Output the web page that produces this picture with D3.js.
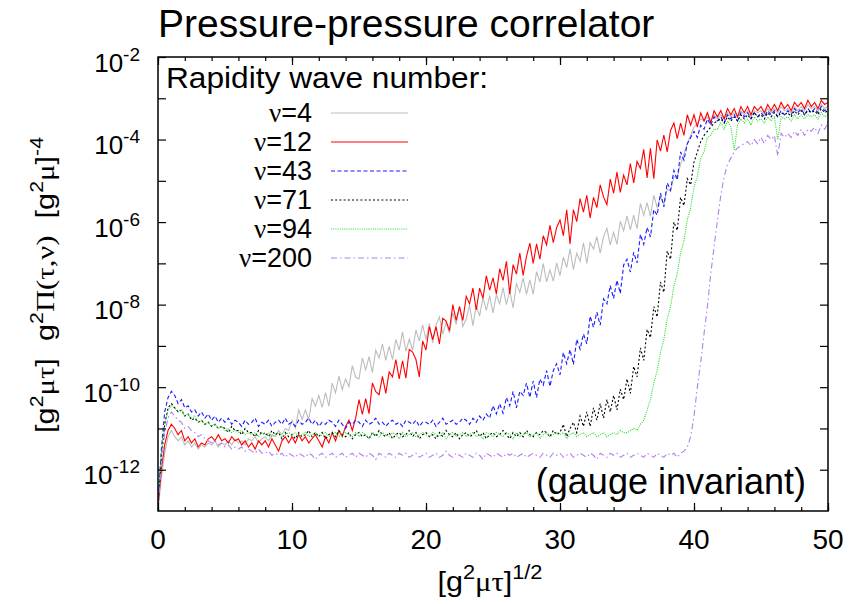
<!DOCTYPE html>
<html><head><meta charset="utf-8">
<script src="https://cdn.jsdelivr.net/npm/d3@7"></script>
<style>
body{margin:0;background:#fff}
text{font-family:"Liberation Sans",Arial,sans-serif;fill:#000}
</style>
</head><body>
<svg id="chart" width="863" height="604"></svg>
<script>
// ---- data: log10 of g^2 Pi, sampled every 0.25 in [g^2 mu tau]^1/2 from 0 to 50 ----
const tauStep = 0.25;
const nu4 = [
-13.0,-12.2,-11.6,-11.2,-11.05,-11.2,-11.3,-11.2,-11.4,-11.3,-11.45,-11.35,-11.5,-11.4,-11.45,-11.35,-11.4,-11.3,-11.45,-11.35,
-11.4,-11.3,-11.4,-11.25,-11.35,-11.3,-11.4,-11.25,-11.3,-11.2,-11.35,-11.25,-11.2,-11.3,-11.15,-11.2,-11.05,-11.15,-11.0,-11.05,
-10.8,-10.98,-10.55,-10.78,-10.55,-10.79,-10.28,-10.46,-10.2,-10.49,-10.13,-10.46,-9.9,-10.14,-9.73,-10.06,-9.8,-9.99,-9.48,-9.76,
-9.8,-9.29,-9.58,-9.26,-9.65,-9.1,-9.3,-8.95,-9.35,-9.01,-9.33,-8.84,-9.1,-8.66,-9.13,-8.84,-9.1,-8.61,-8.88,-8.49,
-8.85,-8.46,-8.93,-8.49,-8.3,-8.71,-8.43,-8.69,-8.2,-8.48,-8.05,-8.53,-8.35,-8.01,-8.51,-8.02,-8.28,-7.83,-8.14,-7.79,
-8.2,-7.76,-7.98,-7.59,-8.0,-7.66,-8.08,-7.49,-7.7,-7.35,-7.75,-7.4,-7.75,-7.2,-7.45,-7.0,-7.45,-7.16,-7.43,-6.99,
-7.3,-6.85,-7.1,-6.65,-7.15,-6.75,-6.95,-6.5,-7.0,-6.5,-6.65,-6.35,-6.75,-6.35,-6.15,-6.55,-6.25,-6.54,-5.98,-6.21,
-5.85,-6.19,-5.83,-6.16,-5.55,-5.84,-5.53,-5.86,-5.35,-5.64,-5.38,-5.56,-5.2,-5.25,-4.9,-4.9,-4.6,-4.35,-4.1,-3.9,
-3.7,-3.6,-3.5,-3.55,-3.45,-3.55,-3.4,-3.5,-3.4,-3.5,-3.35,-3.45,-3.35,-3.45,-3.3,-3.4,-3.3,-3.45,-3.3,-3.35,
-3.3,-3.4,-3.25,-3.35,-3.25,-3.35,-3.2,-3.3,-3.25,-3.35,-3.2,-3.3,-3.2,-3.3,-3.15,-3.25,-3.2,-3.3,-3.15,-3.25,
-3.2];
const nu12 = [
-12.9,-12.0,-11.4,-11.05,-10.9,-11.0,-11.15,-11.05,-11.3,-11.2,-11.35,-11.25,-11.45,-11.35,-11.4,-11.25,-11.2,-11.3,-11.15,-11.3,
-11.25,-11.35,-11.2,-11.3,-11.25,-11.4,-11.3,-11.45,-11.35,-11.5,-11.3,-11.4,-11.3,-11.45,-11.25,-11.4,-11.55,-11.3,-11.2,-11.35,
-11.2,-11.35,-11.15,-11.3,-11.2,-11.35,-11.25,-11.15,-11.3,-11.45,-11.2,-11.35,-11.1,-11.3,-11.05,-11.2,-10.95,-10.8,-11.05,-10.75,
-10.3,-10.66,-10.28,-10.64,-9.9,-10.11,-10.18,-9.74,-10.15,-9.63,-9.75,-9.33,-9.8,-9.36,-9.78,-9.09,-9.15,-9.33,-9.75,-8.88,
-9.1,-8.53,-8.85,-8.53,-8.95,-8.33,-8.4,-8.63,-8.0,-8.38,-8.05,-8.38,-7.8,-7.98,-7.6,-8.13,-7.6,-7.85,-7.3,-7.65,
-7.35,-7.74,-7.13,-7.41,-6.95,-7.74,-7.03,-7.26,-6.75,-7.29,-6.83,-6.51,-7.0,-6.53,-6.9,-6.33,-6.55,-6.08,-6.5,-6.13,
-5.95,-6.33,-5.7,-6.53,-5.7,-5.99,-5.43,-5.76,-5.35,-5.9,-5.4,-5.65,-5.1,-5.39,-5.58,-4.96,-5.3,-4.79,-5.28,-4.86,
-5.1,-4.58,-5.05,-4.53,-4.7,-4.24,-4.93,-4.21,-4.95,-4.01,-4.28,-3.89,-4.3,-3.78,-3.6,-3.98,-3.6,-3.9,-3.4,-3.65,
-3.4,-3.7,-3.35,-3.55,-3.35,-3.6,-3.3,-3.45,-3.3,-3.5,-3.25,-3.4,-3.25,-3.45,-3.2,-3.35,-3.2,-3.4,-3.2,-3.3,
-3.2,-3.35,-3.15,-3.3,-3.15,-3.3,-3.1,-3.25,-3.15,-3.3,-3.1,-3.2,-3.1,-3.25,-3.05,-3.2,-3.1,-3.25,-3.05,-3.15,
-3.1];
const nu43 = [
-12.8,-11.5,-10.6,-10.25,-10.1,-10.2,-10.4,-10.3,-10.5,-10.45,-10.6,-10.55,-10.7,-10.6,-10.75,-10.65,-10.8,-10.7,-10.85,-10.75,
-10.85,-10.75,-10.9,-10.8,-10.85,-10.95,-10.8,-10.9,-10.85,-10.75,-10.95,-10.85,-10.9,-10.8,-10.95,-10.85,-10.8,-10.9,-10.75,-10.9,
-10.85,-10.95,-10.8,-10.9,-10.85,-10.75,-10.9,-10.8,-10.95,-10.85,-10.9,-10.8,-10.85,-10.95,-10.8,-10.9,-11.0,-10.85,-10.9,-10.8,
-10.85,-10.95,-10.8,-10.9,-10.85,-10.75,-10.9,-10.85,-10.95,-10.85,-10.8,-10.9,-10.85,-10.95,-10.8,-10.85,-10.9,-10.8,-10.95,-10.85,
-10.85,-10.9,-10.8,-10.95,-10.85,-10.75,-10.9,-10.85,-10.8,-10.9,-10.85,-10.75,-10.8,-10.9,-10.75,-10.85,-10.7,-10.8,-10.65,-10.75,
-10.45,-10.65,-10.4,-10.63,-10.25,-10.45,-10.1,-10.5,-10.1,-10.2,-9.9,-10.25,-9.85,-10.25,-9.8,-9.95,-9.6,-9.98,-9.6,-9.43,
-9.7,-9.16,-9.43,-9.09,-9.45,-8.84,-9.08,-8.71,-8.95,-8.28,-8.55,-8.18,-8.5,-7.86,-7.98,-7.54,-7.85,-7.41,-7.73,-7.04,
-6.9,-7.21,-6.73,-6.99,-6.3,-6.54,-6.13,-6.36,-5.7,-5.83,-5.3,-5.63,-5.05,-5.23,-4.75,-4.98,-4.3,-4.5,-4.1,-3.95,
-3.8,-3.95,-3.65,-3.75,-3.5,-3.65,-3.45,-3.55,-3.45,-3.6,-3.4,-3.5,-3.4,-3.55,-3.35,-3.45,-3.35,-3.5,-3.35,-3.45,
-3.35,-3.45,-3.3,-3.4,-3.3,-3.45,-3.3,-3.4,-3.3,-3.4,-3.25,-3.35,-3.25,-3.4,-3.25,-3.35,-3.25,-3.35,-3.2,-3.3,
-3.25];
const nu71 = [
-12.8,-11.7,-10.9,-10.5,-10.4,-10.5,-10.6,-10.55,-10.7,-10.65,-10.8,-10.75,-10.85,-10.8,-10.9,-10.85,-10.95,-10.9,-11.0,-10.95,
-11.0,-11.1,-10.95,-11.05,-11.05,-11.15,-11.0,-11.1,-11.1,-11.2,-11.05,-11.15,-11.1,-11.2,-11.05,-11.15,-11.1,-11.25,-11.1,-11.2,
-11.15,-11.25,-11.1,-11.2,-11.15,-11.05,-11.2,-11.1,-11.2,-11.1,-11.25,-11.15,-11.1,-11.2,-11.05,-11.15,-11.2,-11.1,-11.25,-11.15,
-11.1,-11.2,-11.15,-11.25,-11.1,-11.2,-11.05,-11.15,-11.2,-11.1,-11.25,-11.15,-11.1,-11.2,-11.15,-11.05,-11.2,-11.1,-11.25,-11.15,
-11.1,-11.2,-11.15,-11.25,-11.1,-11.2,-11.05,-11.15,-11.2,-11.1,-11.25,-11.15,-11.1,-11.2,-11.15,-11.05,-11.2,-11.1,-11.25,-11.15,
-11.1,-11.2,-11.15,-11.05,-11.15,-11.25,-11.1,-11.2,-11.1,-11.2,-11.05,-11.15,-11.2,-11.1,-11.15,-11.05,-11.1,-11.2,-11.05,-11.15,
-11.1,-10.9,-11.2,-11.0,-10.85,-11.1,-10.7,-10.95,-10.6,-10.95,-10.5,-10.8,-10.4,-10.75,-10.3,-10.6,-10.2,-10.55,-10.05,-10.3,
-9.8,-10.15,-9.5,-9.75,-9.05,-9.35,-8.6,-8.8,-8.05,-8.3,-7.45,-7.7,-6.7,-6.9,-6.0,-6.2,-5.4,-5.6,-4.95,-5.1,
-4.55,-4.3,-4.05,-3.9,-3.8,-3.7,-3.6,-3.55,-3.5,-3.6,-3.45,-3.55,-3.45,-3.55,-3.4,-3.5,-3.4,-3.5,-3.35,-3.45,
-3.4,-3.5,-3.35,-3.45,-3.35,-3.45,-3.35,-3.4,-3.35,-3.45,-3.3,-3.4,-3.3,-3.4,-3.3,-3.35,-3.3,-3.4,-3.25,-3.35,
-3.3];
const nu94 = [
-12.8,-11.6,-10.9,-10.55,-10.45,-10.5,-10.6,-10.55,-10.7,-10.65,-10.75,-10.7,-10.85,-10.8,-10.9,-10.85,-10.95,-10.9,-11.0,-10.95,
-11.05,-11.0,-11.1,-11.05,-11.1,-11.05,-11.15,-11.1,-11.15,-11.1,-11.2,-11.1,-11.15,-11.1,-11.2,-11.15,-11.1,-11.2,-11.15,-11.1,
-11.15,-11.1,-11.2,-11.15,-11.1,-11.2,-11.15,-11.1,-11.2,-11.15,-11.1,-11.2,-11.15,-11.1,-11.2,-11.15,-11.1,-11.15,-11.2,-11.1,
-11.2,-11.1,-11.15,-11.25,-11.1,-11.15,-11.2,-11.1,-11.15,-11.2,-11.1,-11.15,-11.25,-11.1,-11.2,-11.15,-11.1,-11.2,-11.15,-11.1,
-11.15,-11.2,-11.1,-11.15,-11.2,-11.1,-11.25,-11.15,-11.1,-11.2,-11.15,-11.1,-11.2,-11.15,-11.1,-11.2,-11.15,-11.25,-11.1,-11.15,
-11.2,-11.1,-11.15,-11.2,-11.1,-11.15,-11.25,-11.1,-11.2,-11.15,-11.1,-11.2,-11.15,-11.1,-11.25,-11.15,-11.1,-11.2,-11.15,-11.1,
-11.15,-11.1,-11.25,-11.15,-11.1,-11.2,-11.15,-11.1,-11.2,-11.15,-11.1,-11.2,-11.15,-11.1,-11.2,-11.15,-11.1,-11.15,-11.05,-11.1,
-11.1,-11.05,-11.0,-11.05,-10.9,-10.8,-10.55,-10.3,-9.9,-9.6,-9.15,-8.85,-8.35,-8.05,-7.55,-7.25,-6.75,-6.45,-5.95,-5.65,
-5.15,-4.9,-4.45,-4.3,-3.95,-3.9,-3.75,-3.75,-3.6,-3.75,-3.55,-3.7,-4.25,-3.65,-3.5,-3.6,-3.5,-3.65,-3.45,-3.55,
-3.5,-3.6,-3.45,-3.55,-3.45,-4.0,-3.45,-3.5,-3.45,-3.55,-3.4,-3.5,-3.4,-3.5,-3.4,-3.45,-3.4,-3.5,-3.35,-3.45,
-3.4];
const nu200 = [
-12.9,-11.9,-11.1,-10.75,-10.6,-10.7,-10.8,-10.85,-11.0,-10.95,-11.05,-11.1,-11.2,-11.15,-11.25,-11.3,-11.35,-11.3,-11.4,-11.35,
-11.45,-11.4,-11.5,-11.45,-11.5,-11.45,-11.55,-11.5,-11.55,-11.6,-11.5,-11.6,-11.6,-11.55,-11.65,-11.6,-11.65,-11.6,-11.7,-11.6,
-11.65,-11.7,-11.6,-11.65,-11.7,-11.6,-11.65,-11.75,-11.65,-11.6,-11.7,-11.65,-11.6,-11.7,-11.65,-11.6,-11.7,-11.65,-11.6,-11.7,
-11.6,-11.65,-11.7,-11.6,-11.65,-11.75,-11.6,-11.65,-11.7,-11.6,-11.65,-11.7,-11.6,-11.65,-11.6,-11.7,-11.65,-11.6,-11.7,-11.65,
-11.6,-11.7,-11.65,-11.6,-11.7,-11.65,-11.55,-11.65,-11.7,-11.6,-11.65,-11.7,-11.6,-11.65,-11.7,-11.6,-11.65,-11.75,-11.6,-11.65,
-11.7,-11.6,-11.65,-11.7,-11.6,-11.65,-11.6,-11.7,-11.65,-11.6,-11.7,-11.65,-11.6,-11.65,-11.7,-11.6,-11.65,-11.7,-11.6,-11.65,
-11.6,-11.7,-11.65,-11.6,-11.7,-11.65,-11.6,-11.65,-11.7,-11.6,-11.65,-11.75,-11.6,-11.65,-11.7,-11.6,-11.65,-11.6,-11.7,-11.65,
-11.6,-11.7,-11.65,-11.6,-11.65,-11.7,-11.6,-11.65,-11.7,-11.6,-11.65,-11.7,-11.6,-11.65,-11.6,-11.7,-11.6,-11.55,-11.45,-11.2,
-10.7,-10.0,-9.4,-8.7,-8.05,-7.25,-6.6,-5.95,-5.35,-4.9,-4.6,-4.45,-4.3,-4.2,-4.15,-4.1,-4.05,-4.15,-4.0,-4.1,
-3.95,-4.1,-3.9,-4.0,-3.9,-4.4,-3.85,-3.95,-3.85,-3.95,-3.8,-3.9,-3.75,-3.9,-3.75,-3.8,-3.7,-3.85,-3.65,-3.75,
-3.6];

const seriesLabels = ["4", "12", "43", "71", "94", "200"];
const seriesData = [nu4, nu12, nu43, nu71, nu94, nu200];
const seriesColors = ["#bdbdbd", "#ff0000", "#1a1aff", "#000000", "#22dd22", "#b080f0"];
const seriesDash = [null, null, "4,2.5", "2,2.2", "1,1.2", "6,3,1.5,3"];
const xTicks = [0, 10, 20, 30, 40, 50];
const xMinorTicks = d3.range(0, 51, 2);
const yTickExps = [-2, -4, -6, -8, -10, -12];
const yDecadeExps = d3.range(-12, -1);

// ---- layout ----
const L = 158, R = 828, T = 57, B = 511;
const svg = d3.select("#chart");
const x = d3.scaleLinear().domain([0, 50]).range([L, R]);
const y = d3.scaleLog().domain([1e-13, 1e-2]).range([B, T]);
const tau = nu4.map((_, i) => i * tauStep);

svg.append("defs").append("clipPath").attr("id", "plot")
  .append("rect").attr("x", L).attr("y", T).attr("width", R - L).attr("height", B - T);

// curves
const line = d3.line().x((d, i) => x(tau[i])).y(d => y(Math.pow(10, d)));
const gCurves = svg.append("g").attr("clip-path", "url(#plot)");
seriesData.forEach((s, k) => {
  gCurves.append("path").datum(s).attr("d", line)
    .attr("fill", "none").attr("stroke", seriesColors[k]).attr("stroke-width", 1.1)
    .attr("stroke-dasharray", seriesDash[k]);
});

// axes (ticks inward, mirrored)
function noDomain(g) { g.select(".domain").remove(); g.selectAll("text").remove(); }
svg.append("g").attr("transform", `translate(0,${B})`)
  .call(d3.axisBottom(x).tickValues(xMinorTicks).tickSize(-4)).call(noDomain);
svg.append("g").attr("transform", `translate(0,${B})`)
  .call(d3.axisBottom(x).tickValues(xTicks).tickSize(-8)).call(noDomain);
svg.append("g").attr("transform", `translate(0,${T})`)
  .call(d3.axisTop(x).tickValues(xMinorTicks).tickSize(-4)).call(noDomain);
svg.append("g").attr("transform", `translate(0,${T})`)
  .call(d3.axisTop(x).tickValues(xTicks).tickSize(-8)).call(noDomain);
const decades = yDecadeExps.map(e => Math.pow(10, e));
svg.append("g").attr("transform", `translate(${L},0)`)
  .call(d3.axisLeft(y).tickValues(decades).tickSize(-8)).call(noDomain);
svg.append("g").attr("transform", `translate(${R},0)`)
  .call(d3.axisRight(y).tickValues(decades).tickSize(-8)).call(noDomain);
svg.selectAll(".tick line").attr("stroke", "#000").attr("stroke-width", 1.2);

svg.append("rect").attr("x", L).attr("y", T).attr("width", R - L).attr("height", B - T)
  .attr("fill", "none").attr("stroke", "#000").attr("stroke-width", 1.5);

// rich text helper (superscripts, serif greek)
function rich(text, segs, supSize, shift) {
  let up = false;
  segs.forEach(s => {
    const ts = text.append("tspan").text(s.t);
    if (s.sup) {
      ts.attr("font-size", supSize);
      if (!up) { ts.attr("dy", -shift); up = true; }
    } else if (up) { ts.attr("dy", shift); up = false; }
    if (s.serif) ts.attr("font-family", "'Liberation Serif', serif");
  });
  return text;
}

// x tick labels
svg.append("g").selectAll("text").data(xTicks).join("text")
  .attr("x", d => x(d)).attr("y", 549).attr("text-anchor", "middle")
  .attr("font-size", 28).text(d => d);

// y tick labels
yTickExps.forEach(e => {
  const t = svg.append("text").attr("x", 140).attr("y", y(Math.pow(10, e)) + 14.5)
    .attr("text-anchor", "end").attr("font-size", 26);
  rich(t, [{t: "10"}, {t: String(e), sup: true}], 19, 11);
});

// axis titles
const xt = svg.append("text").attr("x", 490).attr("y", 591).attr("text-anchor", "middle")
  .attr("font-size", 28).attr("textLength", 105).attr("lengthAdjust", "spacingAndGlyphs");
rich(xt, [{t: "[g"}, {t: "2", sup: true}, {t: "μτ", serif: true}, {t: "]"}, {t: "1/2", sup: true}], 20, 12);

const yt = svg.append("text").attr("transform", "translate(54,285) rotate(-90)")
  .attr("text-anchor", "middle").attr("font-size", 26).attr("xml:space", "preserve")
  .attr("textLength", 296).attr("lengthAdjust", "spacingAndGlyphs")
  .style("white-space", "pre");
rich(yt, [{t: "[g"}, {t: "2", sup: true}, {t: "μτ", serif: true}, {t: "]  g"}, {t: "2", sup: true},
  {t: "Π(τ,ν)", serif: true}, {t: "  [g"}, {t: "2", sup: true}, {t: "μ", serif: true}, {t: "]"},
  {t: "-4", sup: true}], 18, 11);

// title and annotation
svg.append("text").attr("x", 158).attr("y", 37).attr("font-size", 39).text("Pressure-pressure correlator");
svg.append("text").attr("x", 806).attr("y", 494).attr("text-anchor", "end").attr("font-size", 36)
  .text("(gauge invariant)");

// legend
svg.append("text").attr("x", 166).attr("y", 88).attr("font-size", 30)
  .attr("textLength", 322).attr("lengthAdjust", "spacingAndGlyphs").text("Rapidity wave number:");
seriesLabels.forEach((lab, k) => {
  const ly = 113 + k * 29;
  const t = svg.append("text").attr("x", 312).attr("y", ly + 9).attr("text-anchor", "end").attr("font-size", 27);
  rich(t, [{t: "ν", serif: true}, {t: "=" + lab}], 27, 0);
  svg.append("line").attr("x1", 331).attr("x2", 408).attr("y1", ly).attr("y2", ly)
    .attr("stroke", seriesColors[k]).attr("stroke-width", 1.1).attr("stroke-dasharray", seriesDash[k]);
});
</script>
</body></html>
